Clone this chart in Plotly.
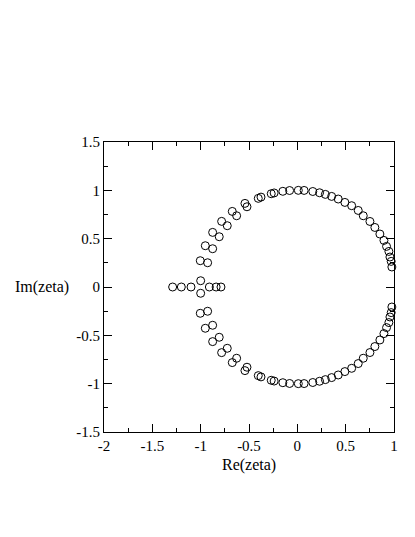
import plotly.graph_objects as go

# zeros on the real axis
real_x = [-1.29, -1.20, -1.10, -0.91, -0.84, -0.79]
real_y = [0, 0, 0, 0, 0, 0]

# pair just off the axis at Re = -1
near_x = [-1.0, -1.0]
near_y = [0.065, -0.065]

# upper half (left branch + arc)
upper_x = [-1.004, -0.928, -0.952, -0.876, -0.876, -0.808, -0.783, -0.725,
           -0.673, -0.628, -0.542, -0.521, -0.404, -0.376, -0.27, -0.24,
           -0.15, -0.08, 0.01, 0.07, 0.16, 0.23, 0.29, 0.355, 0.423, 0.492,
           0.562, 0.63, 0.682, 0.751, 0.802, 0.854, 0.896, 0.923, 0.947,
           0.958, 0.971, 0.978]
upper_y = [0.272, 0.251, 0.427, 0.396, 0.565, 0.52, 0.679, 0.634,
           0.782, 0.737, 0.865, 0.83, 0.917, 0.93, 0.965, 0.973,
           0.99, 0.998, 1.0, 0.999, 0.988, 0.975, 0.958, 0.937, 0.91, 0.875,
           0.841, 0.792, 0.737, 0.678, 0.616, 0.548, 0.482, 0.42, 0.368,
           0.31, 0.265, 0.207]

# lower half (conjugates)
lower_x = [-1.004, -0.928, -0.952, -0.876, -0.876, -0.808, -0.783, -0.725,
           -0.673, -0.628, -0.542, -0.521, -0.404, -0.376, -0.27, -0.24,
           -0.15, -0.08, 0.01, 0.07, 0.16, 0.23, 0.29, 0.355, 0.423, 0.492,
           0.562, 0.63, 0.682, 0.751, 0.802, 0.854, 0.896, 0.923, 0.947,
           0.958, 0.971, 0.978]
lower_y = [-0.272, -0.251, -0.427, -0.396, -0.565, -0.52, -0.679, -0.634,
           -0.782, -0.737, -0.865, -0.83, -0.917, -0.93, -0.965, -0.973,
           -0.99, -0.998, -1.0, -0.999, -0.988, -0.975, -0.958, -0.937, -0.91, -0.875,
           -0.841, -0.792, -0.737, -0.678, -0.616, -0.548, -0.482, -0.42, -0.368,
           -0.31, -0.265, -0.207]

x_ticks = [-2, -1.5, -1, -0.5, 0, 0.5, 1]
x_labels = ["-2", "-1.5", "-1", "-0.5", "0", "0.5", "1"]
y_ticks = [-1.5, -1, -0.5, 0, 0.5, 1, 1.5]
y_labels = ["-1.5", "-1", "-0.5", "0", "0.5", "1", "1.5"]

font = "Liberation Serif, Times New Roman, serif"

fig = go.Figure()
for xs, ys in [(real_x, real_y), (near_x, near_y), (upper_x, upper_y), (lower_x, lower_y)]:
    fig.add_trace(go.Scatter(
        x=xs, y=ys, mode="markers",
        marker=dict(symbol="circle-open", size=8, color="black", line=dict(width=1, color="black")),
        showlegend=False, cliponaxis=False,
    ))

axis_common = dict(
    showline=True, linecolor="black", linewidth=1, mirror="ticks",
    ticks="inside", ticklen=8, tickcolor="black", tickwidth=1,
    minor=dict(ticks="inside", ticklen=4, dtick=0.25, tickcolor="black"),
    showgrid=False, zeroline=False,
    tickfont=dict(family=font, size=15, color="black"),
)
fig.update_xaxes(range=[-2, 1], tickvals=x_ticks, ticktext=x_labels, **axis_common)
fig.update_yaxes(range=[-1.5, 1.5], tickvals=y_ticks, ticktext=y_labels, **axis_common)

fig.add_annotation(text="Re(zeta)", x=0.5, y=-0.114, xref="paper", yref="paper",
                   xanchor="center", yanchor="middle",
                   showarrow=False, font=dict(family=font, size=16, color="black"))
fig.add_annotation(text="Im(zeta)", x=-0.215, y=0.5, xref="paper", yref="paper",
                   xanchor="center", yanchor="middle",
                   showarrow=False, font=dict(family=font, size=16, color="black"))

fig.update_layout(
    width=415, height=537,
    margin=dict(l=96, r=29, t=134, b=113),
    plot_bgcolor="white", paper_bgcolor="white",
)
fig.write_html("out.html")
